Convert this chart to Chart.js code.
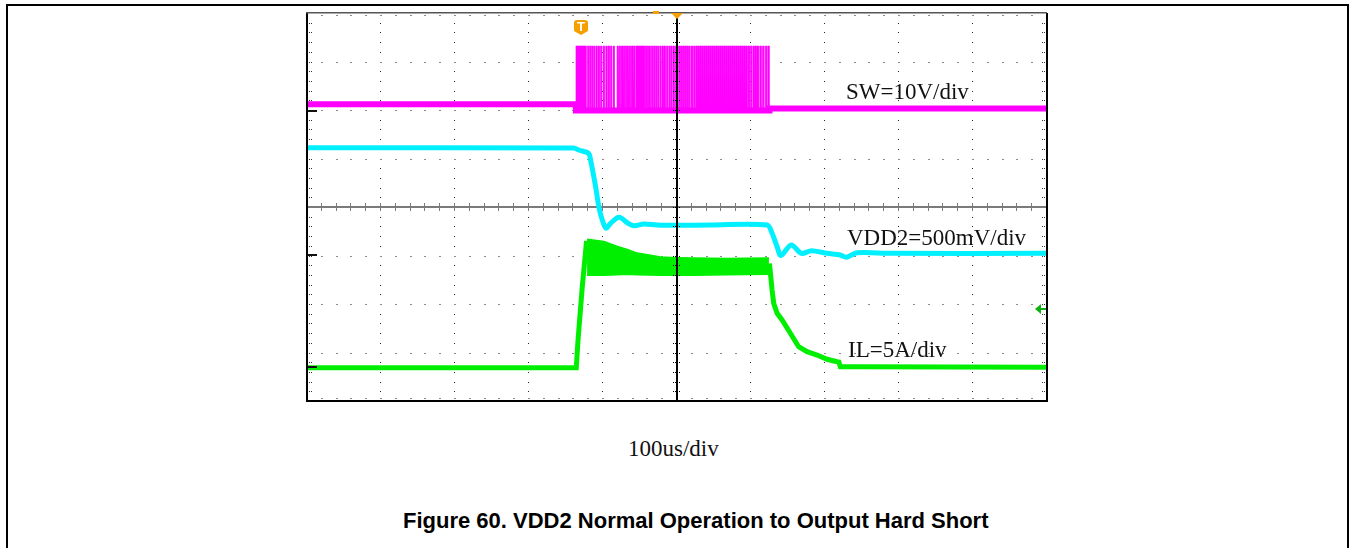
<!DOCTYPE html>
<html>
<head>
<meta charset="utf-8">
<title>VDD2 Normal Operation to Output Hard Short</title>
<script src="https://cdn.jsdelivr.net/npm/chart.js@4.4.1/dist/chart.umd.min.js"></script>
<style>
    html, body { margin: 0; padding: 0; background: #fff; width: 1351px; height: 548px; overflow: hidden; }
    #frame { position: absolute; left: 6px; top: 4px; width: 1339px; height: 600px; border: 2px solid #000; }
    #scope { position: absolute; left: 297px; top: 3px; width: 760px; height: 408px; }
    .lbl { position: absolute; font-family: "Liberation Serif", "Times New Roman", serif; font-size: 23px; line-height: 23px; color: #111; white-space: nowrap; }
    #caption { position: absolute; left: 403px; top: 510px; font-family: "Liberation Sans", Arial, sans-serif; font-weight: bold; font-size: 22px; line-height: 22px; color: #000; white-space: nowrap; }
</style>
</head>
<body>
<div id="frame"></div>
<div id="scope"><canvas id="ScopeShot"></canvas></div>
<div class="lbl" style="left:846px; top:80px;">SW=10V/div</div>
<div class="lbl" style="left:847px; top:226px;">VDD2=500mV/div</div>
<div class="lbl" style="left:848px; top:338px;">IL=5A/div</div>
<div class="lbl" style="left:628px; top:437px;">100us/div</div>
<div id="caption">Figure 60. VDD2 Normal Operation to Output Hard Short</div>

<script>
// time in us (100us/div, 0 = screen centre), level in divisions (0 = screen centre)
const swTime  = [-500, -137, -136.6, 124.5, 125, 500];
const swLevel = [2.12, 2.12, 1.99, 1.99, 2.03, 2.03];

const swPulseHigh = 3.32;
const swPulseLow = 1.97;
const swPulseRise = [-136.6, -121.1, -118.4, -115.7, -113.0, -109.8, -106.7, -103.5, -99.9, -96.3, -93.2, -90.0, -86.4,
    -81.0, -78.7, -76.5, -74.3, -72.0, -69.8, -67.5, -65.2, -63.0, -60.8, -58.5, -55.4,
    -42.8, -40.4, -37.8, -34.7, -32.0, -29.3, -26.6, -23.4, -20.3, -17.6, -14.4, -11.2, -8.5, -5.4, -2.3,
    2.0, 4.7, 7.4, 10.1, 12.8, 15.5, 19.0, 22.3, 25.4, 28.1, 30.8, 33.5, 36.2, 38.9, 41.6, 44.3, 47.0, 49.7,
    52.4, 55.1, 57.8, 60.5, 63.2, 65.9, 68.6, 71.3, 74.0, 76.7, 79.4, 82.1, 84.8, 87.5, 90.2, 92.9,
    96.0, 99.2, 102.7, 105.4, 108.1, 111.8, 115.4, 119.2, 122.6];
const swPulseFall = [-122.9, -119.5, -116.8, -114.1, -111.4, -108.1, -105.0, -101.9, -98.3, -94.6, -91.5, -88.4, -84.8,
    -79.7, -77.4, -75.2, -72.9, -70.6, -68.4, -66.2, -63.9, -61.7, -59.4, -56.8, -43.5,
    -41.2, -38.7, -36.2, -33.1, -30.4, -27.7, -25.0, -21.7, -18.6, -15.9, -12.8, -9.6, -6.9, -3.8, -0.7,
    3.9, 6.6, 9.3, 12.0, 14.7, 17.4, 20.9, 24.2, 27.3, 30.0, 32.7, 35.4, 38.1, 40.8, 43.5, 46.2, 48.9, 51.6,
    54.3, 57.0, 59.7, 62.4, 65.1, 67.8, 70.5, 73.2, 75.9, 78.6, 81.3, 84.0, 86.7, 89.4, 92.1, 94.8,
    97.9, 101.1, 104.6, 107.3, 110.0, 113.7, 117.3, 121.1, 124.5];

const vddTime  = [-500, -139.3, -133.0, -119.5, -116.8, -110.0, -105.6, -101.0, -95.9, -89.8, -78.3, -67.2, -58.3, -44.8, -26.7,
    0.3, 45.2, 121.8, 128.5, 135.3, 140.4, 154.3, 168.1, 181.6, 202.8, 220.7, 228.8, 243.3, 288.2, 500];
const vddLevel = [1.22, 1.217, 1.175, 1.107, 0.969, 0.419, 0.006, -0.268, -0.439, -0.336, -0.212, -0.324, -0.386, -0.351, -0.371,
    -0.377, -0.371, -0.371, -0.542, -0.819, -1.0, -0.784, -0.955, -0.901, -0.955, -0.990, -1.037, -0.942, -0.955, -0.955];

const ilTime  = [-500, -136.1, -133.9, -128.0, -122.2, -121.2, 0.3, 121.8, 125.3, 128.5, 130.7, 135.3, 142.0, 153.2,
    164.4, 175.8, 189.3, 202.8, 216.3, 218.7, 220.7, 243.3, 500];
const ilLevel = [-3.313, -3.313, -2.777, -1.643, -0.701, -1.031, -1.213, -1.22, -1.216, -1.711, -1.986, -2.192, -2.33, -2.604,
    -2.881, -2.984, -3.052, -3.140, -3.190, -3.196, -3.293, -3.293, -3.305];

// ringing band of the inductor current while switching
const ilBandTime = [-121.5, -98.8, -80.7, -67.2, -53.7, -22.3, 0.3, 22.7, 67.8, 121.8, 124.2];
const ilBandHigh = [-0.670, -0.715, -0.819, -0.88, -0.955, -1.037, -1.05, -1.058, -1.066, -1.058, -1.058];
const ilBandLow  = [-1.402, -1.40, -1.39, -1.381, -1.39, -1.40, -1.402, -1.40, -1.39, -1.381, -1.381];

// channel ground markers and trigger marks
const groundLevels = [1.986, -0.996, -3.299];
const triggerTime = -130;
const triggerLevel = -2.103;

const xDivs = 10, yDivs = 8;

function toPoints(xs, ys) {
    return xs.map((v, i) => ({ x: v, y: ys[i] }));
}

function pulsePoints() {
    const pts = [];
    for (let i = 0; i < swPulseRise.length; i++) {
        pts.push({ x: swPulseRise[i], y: swPulseLow });
        pts.push({ x: swPulseRise[i], y: swPulseHigh });
        pts.push({ x: swPulseFall[i], y: swPulseHigh });
        pts.push({ x: swPulseFall[i], y: swPulseLow });
    }
    return pts;
}

const graticule = {
    id: "graticule",
    beforeDatasetsDraw(chart) {
        const { ctx, chartArea: a, scales: { x, y } } = chart;
        const xStep = (x.max - x.min) / xDivs;
        const yStep = (y.max - y.min) / yDivs;
        ctx.save();

        // dotted vertical division lines
        ctx.fillStyle = "#222";
        for (let i = 1; i < xDivs; i++) {
            if (i === xDivs / 2) continue;
            const px = Math.round(x.getPixelForValue(x.min + i * xStep));
            for (let j = 1; j < yDivs * 5; j++) {
                const py = Math.round(y.getPixelForValue(y.min + j * yStep / 5));
                ctx.fillRect(px - 1, py, 1, 1);
            }
        }
        // dotted horizontal division lines
        ctx.fillStyle = "#8a8a8a";
        for (let i = 1; i < yDivs; i++) {
            if (i === yDivs / 2) continue;
            const py = Math.round(y.getPixelForValue(y.min + i * yStep));
            for (let j = 1; j < xDivs * 5; j++) {
                const px = Math.round(x.getPixelForValue(x.min + j * xStep / 5));
                ctx.fillRect(px - 1, py, 2, 1);
            }
        }
        // minor ticks along the edges
        for (let j = 1; j < xDivs * 5; j++) {
            const px = Math.round(x.getPixelForValue(x.min + j * xStep / 5));
            ctx.fillRect(px - 1, a.top + 2, 2, 1);
            ctx.fillRect(px - 1, a.bottom - 3, 2, 1);
        }
        ctx.fillStyle = "#333";
        for (let j = 1; j < yDivs * 5; j++) {
            const py = Math.round(y.getPixelForValue(y.min + j * yStep / 5));
            ctx.fillRect(a.left + 2, py, 1, 1);
            ctx.fillRect(a.left + 4, py, 1, 1);
            ctx.fillRect(a.right - 3, py, 1, 1);
            ctx.fillRect(a.right - 5, py, 1, 1);
        }

        // horizontal centre line with ticks
        const cy = Math.round(y.getPixelForValue(0));
        ctx.fillStyle = "#7a7a7a";
        ctx.fillRect(a.left, cy - 1, a.right - a.left, 2);
        for (let j = 1; j < xDivs * 5; j++) {
            const px = Math.round(x.getPixelForValue(x.min + j * xStep / 5));
            ctx.fillRect(px - 1, cy - 4, 1, 8);
        }
        ctx.restore();
    },
    afterDatasetsDraw(chart) {
        const { ctx, chartArea: a, scales: { x, y } } = chart;
        const yStep = (y.max - y.min) / yDivs;
        ctx.save();

        // vertical centre line with dotted ticks
        const cx = Math.round(x.getPixelForValue(0));
        ctx.fillStyle = "#000";
        ctx.fillRect(cx - 1, a.top, 2, a.bottom - a.top);
        for (let j = 1; j < yDivs * 5; j++) {
            const py = Math.round(y.getPixelForValue(y.min + j * yStep / 5));
            for (let k = -3; k <= 3; k += 2) ctx.fillRect(cx + k - 1, py, 1, 1);
        }

        // screen border
        ctx.fillStyle = "#000";
        ctx.fillRect(a.left - 1, a.top, 2, a.bottom - a.top + 1);
        ctx.fillRect(a.right - 1, a.top, 2, a.bottom - a.top + 1);
        ctx.fillRect(a.left - 1, a.bottom - 1, a.right - a.left + 1, 2);
        ctx.fillStyle = "#555";
        ctx.fillRect(a.left - 1, a.top - 1, a.right - a.left + 1, 1.5);

        // channel ground markers
        ctx.fillStyle = "#111";
        groundLevels.forEach(g => {
            const py = Math.round(y.getPixelForValue(g));
            ctx.fillRect(a.left + 1, py - 1, 9, 2);
        });

        // trigger position marks
        ctx.fillStyle = "#f5a000";
        ctx.beginPath();
        ctx.moveTo(cx - 6, a.top);
        ctx.lineTo(cx + 6, a.top);
        ctx.lineTo(cx, a.top + 6);
        ctx.closePath();
        ctx.fill();
        const sx = Math.round(x.getPixelForValue(-28));
        ctx.fillRect(sx - 3, a.top - 2, 6, 3);

        const tx = Math.round(x.getPixelForValue(triggerTime));
        const ty = a.top + 7;
        ctx.beginPath();
        ctx.moveTo(tx - 7, ty + 3);
        ctx.quadraticCurveTo(tx - 7, ty, tx - 4, ty);
        ctx.lineTo(tx + 4, ty);
        ctx.quadraticCurveTo(tx + 7, ty, tx + 7, ty + 3);
        ctx.lineTo(tx + 7, ty + 11);
        ctx.lineTo(tx, ty + 15);
        ctx.lineTo(tx - 7, ty + 11);
        ctx.closePath();
        ctx.fill();
        ctx.fillStyle = "#fff";
        ctx.font = "bold 13px 'Liberation Sans', Arial, sans-serif";
        ctx.textAlign = "center";
        ctx.textBaseline = "middle";
        ctx.fillText("T", tx, ty + 7);

        // trigger level arrow for IL
        const ly = Math.round(y.getPixelForValue(triggerLevel));
        ctx.fillStyle = "#10b010";
        ctx.beginPath();
        ctx.moveTo(a.right - 12, ly);
        ctx.lineTo(a.right - 6, ly - 5);
        ctx.lineTo(a.right - 6, ly + 5);
        ctx.closePath();
        ctx.fill();
        ctx.fillRect(a.right - 7, ly - 1, 6, 2);
        ctx.restore();
    }
};

function ScopeShotChart() {
    const ctx = document.getElementById("ScopeShot");

    new Chart(ctx, {
        type: "line",
        data: {
            datasets: [
                {
                    label: "SW pulses",
                    data: pulsePoints(),
                    borderColor: "#ff00ff",
                    borderWidth: 0.6,
                    backgroundColor: "#ff00ff",
                    fill: { value: swPulseLow },
                    tension: 0,
                },
                {
                    label: "SW",
                    data: toPoints(swTime, swLevel),
                    borderColor: "#ff00ff",
                    borderWidth: 6,
                    tension: 0,
                },
                {
                    label: "VDD2",
                    data: toPoints(vddTime, vddLevel),
                    borderColor: "#00f0ff",
                    borderWidth: 5,
                    tension: 0.3,
                },
                {
                    label: "IL band high",
                    data: toPoints(ilBandTime, ilBandHigh),
                    borderColor: "#00ee00",
                    borderWidth: 2,
                    backgroundColor: "#00ee00",
                    fill: "+1",
                    tension: 0,
                },
                {
                    label: "IL band low",
                    data: toPoints(ilBandTime, ilBandLow),
                    borderColor: "#00ee00",
                    borderWidth: 2,
                    tension: 0,
                },
                {
                    label: "IL",
                    data: toPoints(ilTime, ilLevel),
                    borderColor: "#00ee00",
                    borderWidth: 5,
                    tension: 0,
                },
            ],
        },
        options: {
            responsive: true,
            maintainAspectRatio: false,
            animation: false,
            layout: {
                padding: 10,
            },
            elements: {
                point: { radius: 0 },
            },
            scales: {
                x: { type: "linear", min: -500, max: 500, display: false },
                y: { type: "linear", min: -4, max: 4, display: false },
            },
            plugins: {
                legend: { display: false },
                tooltip: { enabled: false },
            },
        },
        plugins: [graticule],
    });
}

ScopeShotChart()
</script>
</body>
</html>
